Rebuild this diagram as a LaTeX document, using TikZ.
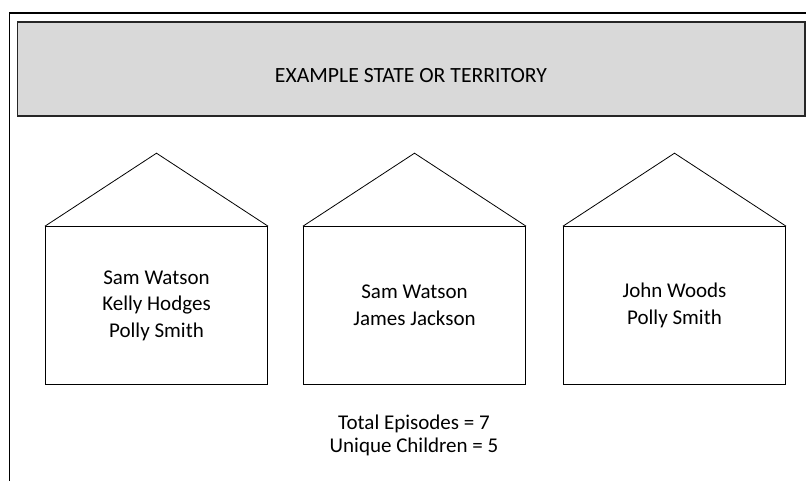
\documentclass[tikz,border=0pt]{standalone}
\usepackage{fontspec}
\setmainfont{Carlito}
\usetikzlibrary{calc}
\begin{document}
\begin{tikzpicture}[x=1pt,y=-1pt,
  frame/.style={draw=black,line width=1.6pt},
  banner/.style={draw=black!85,line width=1.3pt,fill=black!15},
  housebox/.style={draw=black,line width=1.1pt,minimum width=222pt,minimum height=157.5pt,
    inner sep=0pt,align=center,font=\fontsize{21}{26.5}\selectfont},
  roof/.style={draw=black,line width=0.8pt},
  caption/.style={inner sep=0pt,align=center,font=\fontsize{21}{23}\selectfont}]
\useasboundingbox (0,0) rectangle (806,481);
% outer frame, running off the right and lower edges
\coordinate (fl) at (9.5,490);
\coordinate (fc) at (9.5,13.3);
\coordinate (fr) at (815,13.3);
\draw[frame] (fl) -- (fc) -- (fr);
% state banner
\node[banner,minimum width=787.5pt,minimum height=94pt,inner sep=0pt] (state) at (411.2,69) {};
\node[inner sep=0pt,font=\fontsize{21.7}{26}\selectfont] (statename) at (411,75.5) {EXAMPLE STATE OR TERRITORY};
% households
\node[housebox] (h1) at (156.5,305.5) {Sam Watson\\Kelly Hodges\\Polly Smith};
\node[housebox] (h2) at (414.5,305.5) {Sam Watson\\James Jackson};
\node[housebox] (h3) at (674.5,305.5) {John Woods\\Polly Smith};
\foreach \h in {h1,h2,h3}{
  \draw[roof] (\h.north west) -- ($(\h.north)+(0,-73)$) -- (\h.north east);
}
% totals
\node[caption] (totals) at (414,435) {Total Episodes = 7\\Unique Children = 5};
\end{tikzpicture}
\end{document}
